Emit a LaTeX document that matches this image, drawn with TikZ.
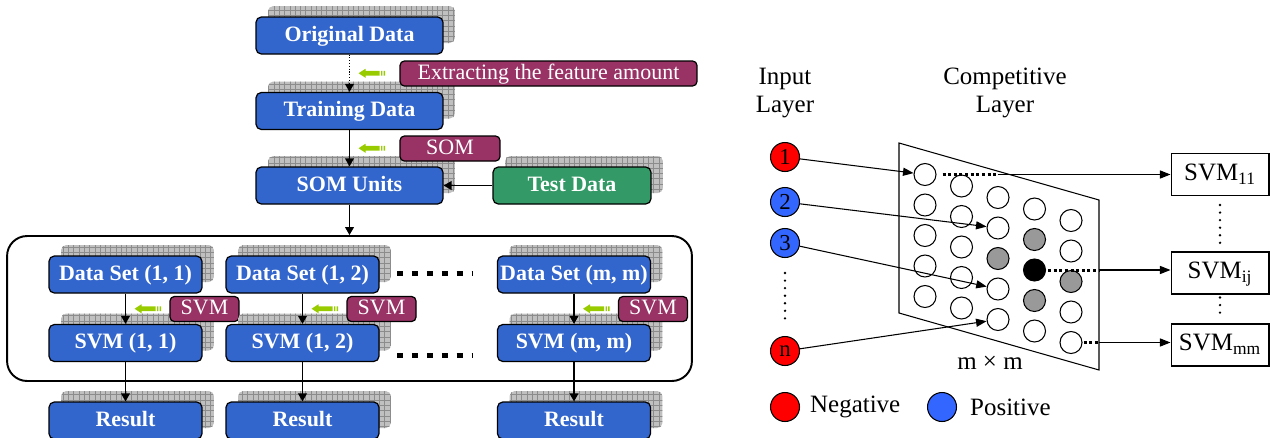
\documentclass[tikz,border=0pt]{standalone}
\usepackage{fontspec}
\setmainfont{Liberation Serif}
\usetikzlibrary{arrows.meta,patterns,calc}
\definecolor{boxblue}{HTML}{3366CC}
\definecolor{boxgreen}{HTML}{339966}
\definecolor{tagpurple}{HTML}{993366}
\definecolor{hintgreen}{HTML}{99CC00}
\definecolor{shadegray}{HTML}{C0C0C0}
\definecolor{gridgray}{HTML}{8C8C8C}
\definecolor{unitgray}{HTML}{999999}
\definecolor{negred}{HTML}{FF0000}
\definecolor{posblue}{HTML}{3366FF}

\begin{document}
\begin{tikzpicture}[x=0.02cm,y=-0.02cm,>={Triangle[length=4.5pt,width=5pt]},
    card/.style={draw,line width=0.7pt,rounded corners=3pt,fill=boxblue,text=white,
      font=\fontsize{12.5}{14}\selectfont\bfseries,minimum width=3.06cm,minimum height=0.74cm,inner sep=0pt,
      text height=0.68em,text depth=0pt,
      preaction={fill=shadegray,transform canvas={shift={(12,-11)}}},
      preaction={pattern=grid,pattern color=gridgray,transform canvas={shift={(12,-11)}}}},
    tag/.style={draw,line width=0.7pt,rounded corners=2.5pt,fill=tagpurple,text=white,
      font=\fontsize{12.5}{14}\selectfont,minimum height=0.5cm,inner sep=0pt,text height=0.68em,text depth=0pt},
    hint/.pic={\fill[hintgreen] (0,0) -- (7,-4.5) -- (7,-2.3) -- (21,-2.3) -- (21,2.3) -- (7,2.3) -- (7,4.5) -- cycle
      (22.5,-2.3) rectangle (23.8,2.3) (25.2,-2.3) rectangle (26.5,2.3);},
    more/.style={line width=3.4pt,dash pattern=on 3.4pt off 5.1pt},
    neuron/.style={circle,draw,line width=0.6pt,minimum size=0.58cm,inner sep=0pt,font=\fontsize{13}{13}\selectfont},
    unit/.style={circle,draw,line width=0.6pt,minimum size=0.44cm,inner sep=0pt},
    hot-2-2/.style={fill=unitgray},hot-3-1/.style={fill=unitgray},hot-3-3/.style={fill=unitgray},
    hot-4-2/.style={fill=unitgray},hot-3-2/.style={fill=black},
    link/.style={line width=0.6pt,-{Triangle[length=6pt,width=4.6pt]}},
    dotline/.style={line width=1.7pt,dash pattern=on 1.7pt off 1.5pt},
    vdots/.style={line width=1.5pt,line cap=round,dash pattern=on 0pt off 4.3pt},
    svmbox/.style={draw,line width=0.6pt,minimum width=1.96cm,minimum height=0.84cm,inner sep=0pt,
      font=\fontsize{14.2}{16}\selectfont,text height=0.68em,text depth=0pt},
    lab/.style={font=\fontsize{14.2}{15.9}\selectfont}]

\useasboundingbox (0,0) rectangle (1270,437);

% training stage
\node[card,minimum width=3.74cm] (orig) at (349.5,35.5) {Original Data};
\node[card,minimum width=3.74cm] (train) at (349.5,111) {Training Data};
\node[card,minimum width=3.74cm] (som) at (349.5,185.5) {SOM Units};
\node[card,minimum width=3.16cm,fill=boxgreen] (test) at (572,185.5) {Test Data};
\node[tag,minimum width=5.94cm] (extract) at (548.5,73.5) {Extracting the feature amount};
\node[tag,minimum width=2cm] (somtag) at (450,148.5) {SOM};

\draw[->,densely dotted,line width=0.6pt] (orig) -- (train);
\draw[->,line width=0.6pt] (train) -- (som);
\draw[->,line width=0.6pt] (test) -- (som);
\pic at ($(orig.south)!.5!(train.north)+(9,0)$) {hint};
\pic at ($(train.south)!.5!(som.north)+(9,0)$) {hint};

% one svm per som unit
\node[draw,line width=1.1pt,rounded corners=0.4cm,minimum width=13.7cm,minimum height=2.9cm] (frame) at (349.5,308.5) {};
\draw[->,line width=0.6pt] (som) -- (frame);

\foreach \i/\x/\a/\b in {1/125.5/1/1,2/302.5/1/2,3/574/m/m} {
  \node[card] (ds\i) at (\x,274.5) {Data Set (\a, \b)};
  \node[card] (svm\i) at (\x,343) {SVM (\a, \b)};
  \node[card] (res\i) at (\x,420.5) {Result};
  \node[tag,minimum width=1.38cm] (svmtag\i) at (\x+79,309) {SVM};
  \draw[->,line width=0.6pt] (ds\i) -- (svm\i);
  \draw[->,line width=0.6pt] (svm\i) -- (res\i);
  \pic at ($(ds\i.south)!.5!(svm\i.north)+(9,0)$) {hint};
}
\draw[more] (397,273.5) -- (473,273.5);
\draw[more] (397,355.5) -- (473,355.5);

% som network
\node[lab,align=center] (inlabel) at (785,93) {Input\\Layer};
\node[lab,align=center] (complabel) at (1005,93) {Competitive\\Layer};

\draw[line width=0.6pt] (899,143) coordinate (tl) -- (1099,200) coordinate (tr)
  -- (1099,370) coordinate (br) -- (899,313) coordinate (bl) -- cycle;

\foreach \col in {0,...,4}
  \foreach \row in {0,...,4}
    \node[unit,hot-\col-\row/.try] (u-\col-\row) at ({925+36.5*\col},{174.5+11.5*\col+30.5*\row}) {};

\node[neuron,fill=negred] (in1) at (785,157) {1};
\node[neuron,fill=posblue] (in2) at (785,202) {2};
\node[neuron,fill=posblue] (in3) at (785,243) {3};
\node[neuron,fill=negred] (inn) at (785,351) {n};
\draw[vdots] ($(in3.south)+(0,15)$) -- ($(inn.north)+(0,-11)$);

\draw[link] (in1) -- (u-0-0);
\draw[link] (in2) -- (u-2-1);
\draw[link] (in3) -- (u-2-3);
\draw[link] (inn) -- (u-2-4);

\node[svmbox] (svm11) at (1220,174.5) {SVM\textsubscript{11}};
\node[svmbox] (svmij) at (1220,273) {SVM\textsubscript{ij}};
\node[svmbox] (svmmm) at (1220,345) {SVM\textsubscript{mm}};
\draw[vdots] ($(svm11.south)+(0,9)$) -- ($(svmij.north)+(0,-5)$);
\draw[vdots] ($(svmij.south)+(0,3)$) -- ($(svmmm.north)+(0,-8)$);

\draw[dotline] ($(u-0-0.east)+(6,0)$) -- ++(55,0) coordinate (t1);
\draw[link] (t1) -- (t1 -| svm11.west);
\draw[dotline] ($(u-3-2.east)+(2,0)$) -- (u-3-2 -| tr) coordinate (t2);
\draw[link] (t2) -- (t2 -| svmij.west);
\draw[dotline] ($(u-4-4.east)+(1,0)$) -- (u-4-4 -| tr) coordinate (t3);
\draw[link] (t3) -- (t3 -| svmmm.west);

\node[lab] (size) at (990,363) {m × m};

% legend
\node[neuron,fill=negred] (negkey) at (785,407) {};
\node[lab,anchor=west] (negtext) at (804,407) {Negative};
\node[neuron,fill=posblue] (poskey) at (942,407) {};
\node[lab,anchor=west] (postext) at (964,407) {Positive};
\end{tikzpicture}
\end{document}
